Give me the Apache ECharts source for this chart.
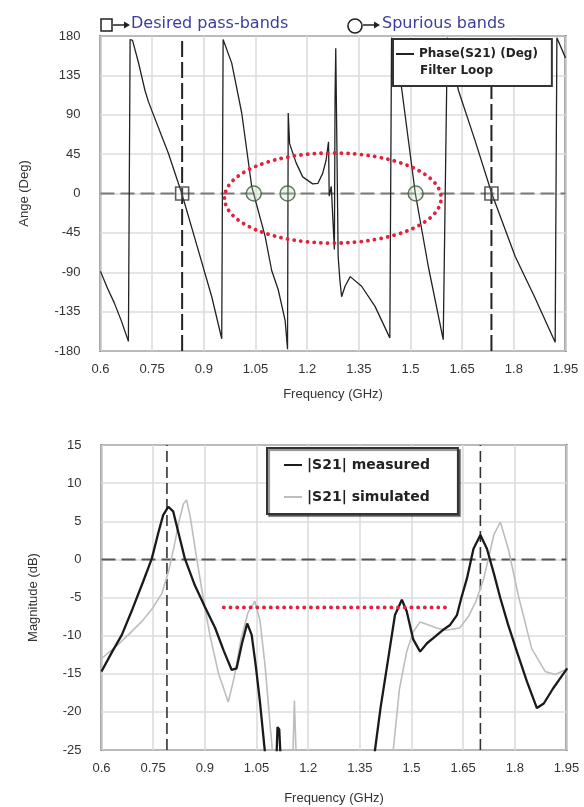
<!DOCTYPE html>
<html><head><meta charset="utf-8">
<script src="https://cdn.jsdelivr.net/npm/echarts@6/dist/echarts.min.js"></script>
<style>html,body{margin:0;padding:0;background:#fff}#c{width:584px;height:807px}</style>
</head><body><div id="c"></div>
<script>
// ---------- data ----------
const phaseFreq = [0.600,0.620,0.640,0.660,0.681,0.686,0.693,0.710,0.729,0.739,0.797,0.836,0.884,0.923,0.952,0.956,0.960,0.981,1.010,1.039,1.078,1.097,1.116,1.136,1.143,1.145,1.149,1.168,1.187,1.216,1.231,1.245,1.255,1.262,1.264,1.270,1.279,1.281,1.283,1.288,1.290,1.295,1.300,1.310,1.325,1.358,1.397,1.440,1.445,1.460,1.475,1.514,1.552,1.595,1.607,1.639,1.687,1.736,1.804,1.860,1.920,1.925,1.950];
const phaseDeg  = [-89,-108,-125,-145,-169,176,175,150,118,105,46,0,-65,-118,-166,176,175,149,92,8,-49,-88,-110,-145,-178,92,57,35,19,11,11.5,23,38,59,-3,8,-64,110,166,166,-72,-99,-118,-106,-95,-106,-129,-165,178,160,118,0,-84,-167,178,118,61,0,-72,-118,-170,178,155];

const measFreq = [0.600,0.630,0.659,0.690,0.721,0.746,0.765,0.779,0.794,0.808,0.825,0.842,0.871,0.900,0.930,0.955,0.978,0.992,1.008,1.023,1.036,1.048,1.060,1.075,1.090,1.105,1.108,1.111,1.116,1.120,1.127,1.200,1.300,1.380,1.394,1.410,1.428,1.452,1.472,1.486,1.505,1.525,1.545,1.564,1.590,1.612,1.632,1.645,1.661,1.680,1.700,1.719,1.740,1.758,1.780,1.806,1.835,1.864,1.884,1.910,1.930,1.952];
const measDb   = [-14.7,-12.2,-9.9,-6.5,-2.9,0.1,3.5,5.8,6.9,6.3,3.2,0.1,-3.4,-6.2,-9.0,-12.0,-14.5,-14.3,-11.0,-8.4,-9.9,-14.0,-18.7,-25.5,-32,-30,-26,-22,-22.3,-26,-32,-40,-40,-30,-25,-19.5,-14.3,-7.3,-5.3,-6.8,-10.5,-12.1,-11.0,-10.3,-9.3,-8.6,-7.3,-5.0,-2.5,1.4,3.2,1.4,-2.0,-5.1,-8.5,-12.1,-16.0,-19.5,-18.9,-17.0,-15.7,-14.3];

const simFreq = [0.600,0.640,0.680,0.720,0.750,0.775,0.795,0.810,0.825,0.838,0.847,0.858,0.875,0.895,0.915,0.940,0.968,0.985,1.005,1.025,1.045,1.060,1.075,1.090,1.100,1.140,1.155,1.160,1.166,1.200,1.300,1.420,1.447,1.465,1.486,1.505,1.525,1.550,1.573,1.600,1.640,1.665,1.687,1.710,1.739,1.758,1.782,1.810,1.849,1.888,1.917,1.955];
const simDb   = [-13.0,-11.5,-9.8,-8.0,-6.3,-4.5,-1.5,1.5,5.0,7.3,7.8,5.5,0.5,-5.0,-10.0,-15.0,-18.7,-15.5,-10.5,-7.0,-5.5,-8.0,-14.0,-22.0,-27,-32,-27,-18.5,-27,-34,-36,-32,-25,-17,-12.1,-9.5,-8.2,-8.6,-9.0,-9.3,-9.0,-7.5,-5.5,-2.5,3.2,4.9,1.2,-4.7,-11.7,-14.7,-15.1,-14.3];

const xTicks = {min:0.6, max:1.95, step:0.15};
const phaseTicks = {min:-180, max:180, step:45};
const magTicks = {min:-25, max:15, step:5};

const passbandTop = [0.837, 1.735];       // squares + dashed lines (phase)
const spuriousTop = [1.045, 1.143, 1.515]; // circles (phase)
const passbandBottom = [0.79, 1.70];      // dashed lines (magnitude)
const ellipseSpec = [1.2745, -5.2, 0.3145, 51.5]; // centre f, centre deg, half-width GHz, half-height deg
const spurLine = [0.955, 1.602, -6.3];    // from f, to f, level dB

// ---------- chart ----------
const zip = (a,b) => a.map((v,i)=>[v,b[i]]);
const fmt = v => String(+v.toFixed(2));
const FONT = 'Liberation Sans';
const RED = '#e3213d';

function xAxisCfg(gi){
  return {type:'value', gridIndex:gi, min:xTicks.min, max:xTicks.max, interval:xTicks.step,
    name:'Frequency (GHz)', nameLocation:'middle', nameGap: gi===0?37:42,
    nameTextStyle:{fontFamily:FONT, fontSize:13, color:'#333'},
    axisLine:{show:false}, axisTick:{show:false},
    axisLabel:{formatter:fmt, fontFamily:FONT, fontSize:13, color:'#333', margin:12},
    splitLine:{show:true, lineStyle:{color:'#dcdcdc', width:1.6}}};
}
function yAxisCfg(gi, t, name, gap){
  return {type:'value', gridIndex:gi, min:t.min, max:t.max, interval:t.step,
    name:name, nameLocation:'middle', nameGap:gap,
    nameTextStyle:{fontFamily:FONT, fontSize:13, color:'#333'},
    axisLine:{show:false}, axisTick:{show:false},
    axisLabel:{fontFamily:FONT, fontSize:13, color:'#333', margin:20},
    splitLine:{show:true, lineStyle:{color:'#dcdcdc', width:1.6}}};
}

const series = [];
// phase curve
series.push({name:'Phase(S21) (Deg)', type:'line', xAxisIndex:0, yAxisIndex:0, data:zip(phaseFreq, phaseDeg),
  symbol:'none', lineStyle:{color:'#222', width:1.3}, itemStyle:{color:'#222'}, z:3, clip:true});
// zero lines
[0,1].forEach(gi=>{
  series.push({name:'zero'+gi, type:'line', xAxisIndex:gi, yAxisIndex:gi, data:[[xTicks.min,0],[xTicks.max,0]],
    symbol:'none', silent:true, lineStyle:{color: gi===0?'#7a7a7a':'#555', width:2, type:[14,6]}, z:2});
});
// dashed pass-band verticals
passbandTop.forEach((f,i)=>series.push({name:'pbT'+i, type:'line', xAxisIndex:0, yAxisIndex:0,
  data:[[f,phaseTicks.min],[f,phaseTicks.max]], symbol:'none', silent:true,
  lineStyle:{color:'#222', width:2, type:[16,5]}, z:2}));
passbandBottom.forEach((f,i)=>series.push({name:'pbB'+i, type:'line', xAxisIndex:1, yAxisIndex:1,
  data:[[f,magTicks.min],[f,magTicks.max]], symbol:'none', silent:true,
  lineStyle:{color:'#333', width:1.6, type:[11,5]}, z:2}));
// ellipse of spurious bands
series.push({name:'ellipse', type:'custom', xAxisIndex:0, yAxisIndex:0, data:[ellipseSpec], z:5, silent:true,
  encode:{x:0, y:1},
  renderItem:function(params, api){
    const c = api.coord([api.value(0), api.value(1)]);
    const s = api.size([api.value(2), api.value(3)]);
    return {type:'ellipse', shape:{cx:c[0], cy:c[1], rx:s[0], ry:s[1]},
      style:{fill:null, stroke:RED, lineWidth:3.8, lineDash:[0.1,6.6], lineCap:'round'}};
  }});
// markers
series.push({name:'passband', type:'scatter', xAxisIndex:0, yAxisIndex:0, data:passbandTop.map(f=>[f,0]),
  symbol:'rect', symbolSize:13, silent:true, itemStyle:{color:'rgba(255,255,255,0.15)', borderColor:'#333', borderWidth:1.6}, z:6});
series.push({name:'spurious', type:'scatter', xAxisIndex:0, yAxisIndex:0, data:spuriousTop.map(f=>[f,0]),
  symbol:'circle', symbolSize:15, silent:true, itemStyle:{color:'rgba(190,225,190,0.35)', borderColor:'#3b5a3b', borderWidth:1.5}, z:6});
// magnitude curves
series.push({name:'|S21| simulated', type:'line', xAxisIndex:1, yAxisIndex:1, data:zip(simFreq, simDb),
  symbol:'none', lineStyle:{color:'#bdbdbd', width:1.6}, itemStyle:{color:'#bdbdbd'}, z:3, clip:true});
series.push({name:'|S21| measured', type:'line', xAxisIndex:1, yAxisIndex:1, data:zip(measFreq, measDb),
  symbol:'none', lineStyle:{color:'#1a1a1a', width:2.3}, itemStyle:{color:'#1a1a1a'}, z:4, clip:true});
// red dotted level
series.push({name:'spurLevel', type:'line', xAxisIndex:1, yAxisIndex:1, data:[[spurLine[0],spurLine[2]],[spurLine[1],spurLine[2]]],
  symbol:'none', silent:true, lineStyle:{color:RED, width:3.8, type:[0.1,6.6], cap:'round'}, z:5});

const option = {
  animation:false,
  backgroundColor:'#fff',
  grid:[
    {left:100.5, top:36, width:465, height:315, show:true, borderColor:'#555', borderWidth:2, backgroundColor:'#fff'},
    {left:101.5, top:445, width:465, height:305, show:true, borderColor:'#555', borderWidth:2, backgroundColor:'#fff'}
  ],
  xAxis:[xAxisCfg(0), xAxisCfg(1)],
  yAxis:[yAxisCfg(0, phaseTicks, 'Ange (Deg)', 70), yAxisCfg(1, magTicks, 'Magnitude (dB)', 62)],
  legend:[
    {data:['Phase(S21) (Deg)'], left:393, top:39, selectedMode:false,
     padding:[9,14,26,2], itemWidth:18, itemHeight:10, itemGap:4,
     itemStyle:{opacity:0, borderWidth:0},
     backgroundColor:'#fff', borderColor:'#333', borderWidth:2,
     textStyle:{fontFamily:'DejaVu Sans', fontWeight:'bold', fontSize:12, color:'#222'}},
    {data:['|S21| measured','|S21| simulated'], orient:'vertical', left:267, top:448, selectedMode:false,
     padding:[10,28,10,16], itemWidth:18, itemHeight:12, itemGap:18,
     itemStyle:{opacity:0, borderWidth:0},
     backgroundColor:'#fff', borderColor:'#333', borderWidth:2,
     shadowColor:'rgba(0,0,0,0.45)', shadowOffsetX:2, shadowOffsetY:2, shadowBlur:1,
     textStyle:{fontFamily:'DejaVu Sans', fontWeight:'bold', fontSize:14, color:'#222'}}
  ],
  graphic:[
    {type:'text', left:420, top:65, z:100, style:{text:'Filter Loop', fontFamily:'DejaVu Sans', fontWeight:'bold', fontSize:12, fill:'#222'}},
    // desired pass-bands key
    {type:'rect', shape:{x:101, y:19, width:11, height:12}, style:{fill:'#fff', stroke:'#222', lineWidth:1.5}, z:100},
    {type:'line', shape:{x1:113, y1:25, x2:126, y2:25}, style:{stroke:'#222', lineWidth:1.5}, z:100},
    {type:'polygon', shape:{points:[[124,21.5],[130,25],[124,28.5]]}, style:{fill:'#222'}, z:100},
    {type:'text', left:131, top:16, z:100, style:{text:'Desired pass-bands', fontFamily:'DejaVu Sans', fontSize:16, fill:'#3b3d9e'}},
    // spurious key
    {type:'circle', shape:{cx:355, cy:26, r:7}, style:{fill:'#fff', stroke:'#222', lineWidth:1.6}, z:100},
    {type:'line', shape:{x1:363, y1:25, x2:376, y2:25}, style:{stroke:'#222', lineWidth:1.5}, z:100},
    {type:'polygon', shape:{points:[[374,21.5],[380,25],[374,28.5]]}, style:{fill:'#222'}, z:100},
    {type:'text', left:382, top:16, z:100, style:{text:'Spurious bands', fontFamily:'DejaVu Sans', fontSize:16, fill:'#3b3d9e'}}
  ],
  series:series
};
const chart = echarts.init(document.getElementById('c'), null, {renderer:'canvas'});
chart.setOption(option);
</script></body></html>
